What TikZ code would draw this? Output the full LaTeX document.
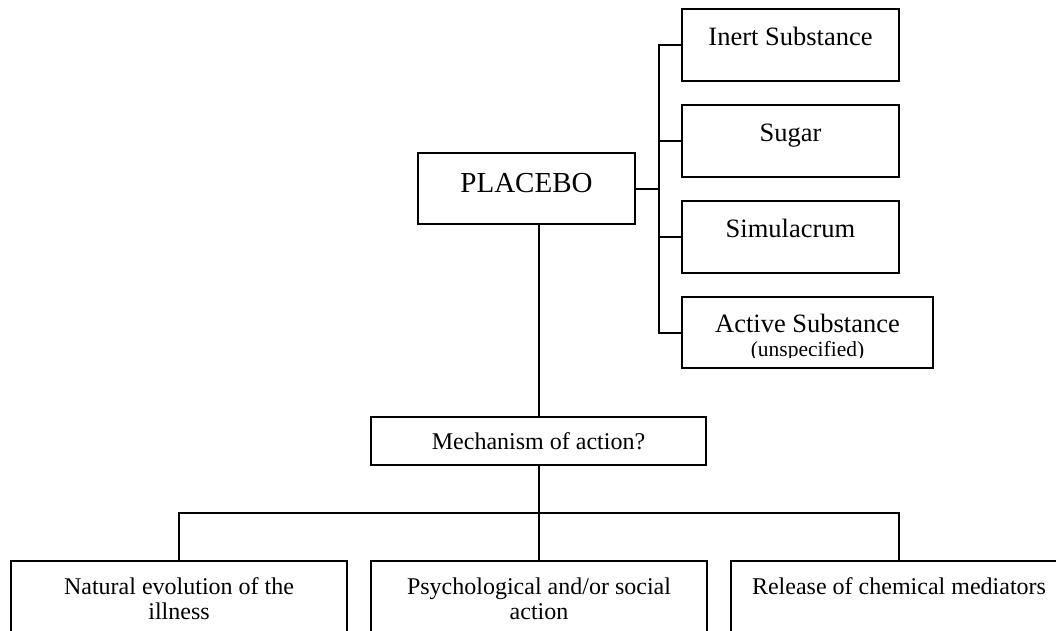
\documentclass[tikz,border=0pt]{standalone}
\usepackage{fontspec}
\setmainfont{Liberation Serif}

\begin{document}
\begin{tikzpicture}[x=1pt,y=-1pt,line width=2pt,
	box/.style={draw,rectangle,inner sep=0pt,outer sep=0pt,anchor=north west},
	kind/.style={box,minimum width=217pt,minimum height=72pt,font=\fontsize{26.5}{30}\selectfont,text height=18pt,text depth=18pt},
	way/.style={box,minimum width=336pt,minimum height=120pt},
	txt/.style={anchor=base,inner sep=0pt,font=\fontsize{24}{28}\selectfont}]
		\useasboundingbox (0,0) rectangle (1056,630);
		\clip (0,0) rectangle (1056,630);
		\node[box,minimum width=217pt,minimum height=71pt,font=\fontsize{29}{33}\selectfont,text height=21pt,text depth=14pt] (placebo) at (418,153) {PLACEBO};
		\node[kind] (inert) at (682,9) {Inert Substance};
		\node[kind] (sugar) at (682,105) {Sugar};
		\node[kind] (simul) at (682,201) {Simulacrum};
		\node[box,minimum width=251pt,minimum height=71pt] (active) at (682,297) {};
		\begin{scope}
			\clip (683,298) rectangle (932,357.5);
			\node[txt,font=\fontsize{26.5}{30}\selectfont] (activea) at (807.5,332) {Active Substance};
			\node[txt,font=\fontsize{21.5}{25}\selectfont] (activeb) at (807.5,356) {(unspecified)};
		\end{scope}
		\node[box,minimum width=335pt,minimum height=48pt,font=\fontsize{24}{28}\selectfont,text height=17pt,text depth=1pt] (mech) at (371,417) {Mechanism of action?};
		\node[way] (natural) at (11,561) {};
		\node[way] (psych) at (371,561) {};
		\node[way] (release) at (731,561) {};
		\node[txt] (naturala) at (179,594) {Natural evolution of the};
		\node[txt] (naturalb) at (179,619) {illness};
		\node[txt] (psycha) at (539,594) {Psychological and/or social};
		\node[txt] (psychb) at (539,619) {action};
		\node[txt] (releasea) at (899,594) {Release of chemical mediators};
		\coordinate (bus) at (659,189);
		\coordinate (bar) at (539,513);
		\draw (placebo.east) -- (placebo.east -| bus);
		\draw (inert.west) -- (bus |- inert.west) -- (bus |- active.west) -- (active.west);
		\foreach \n in {sugar,simul} \draw (bus |- \n.west) -- (\n.west);
		\draw (placebo.south -| mech.north) -- (mech.north);
		\draw (mech.south) -- (mech.south |- bar);
		\draw (natural.north) -- (natural.north |- bar) -- (release.north |- bar) -- (release.north);
		\draw (bar) -- (psych.north);
	\end{tikzpicture}
\end{document}
